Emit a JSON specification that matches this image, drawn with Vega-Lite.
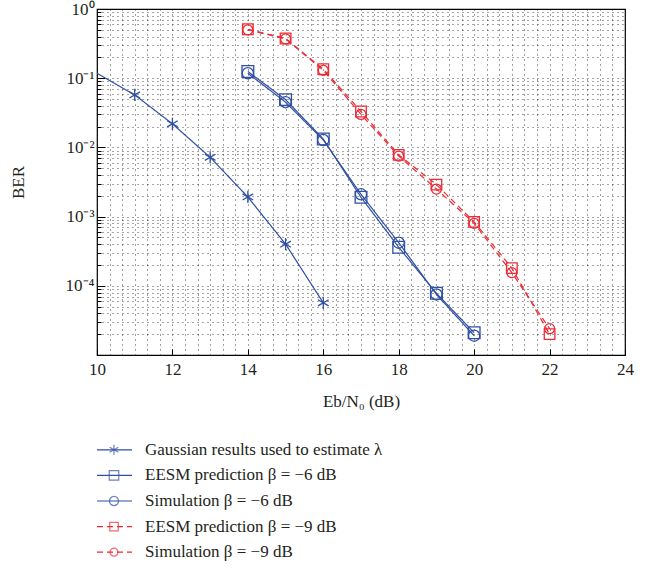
{
  "$schema": "https://vega.github.io/schema/vega-lite/v6.json",
  "background": "white",
  "padding": {"left": 8, "top": -1, "right": 5, "bottom": 5},
  "config": {
    "font": "Liberation Serif",
    "axis": {"labelFont": "Liberation Serif", "titleFont": "Liberation Serif", "labelFontSize": 17, "titleFontSize": 17, "titleFontWeight": "normal", "labelColor": "#231f20", "titleColor": "#231f20", "tickColor": "#000000"},
    "concat": {"spacing": 27}
  },
  "datasets": {
    "curves": [
      {"x": 10, "ber": 0.118, "series": "gauss"},
      {"x": 11, "ber": 0.0574, "series": "gauss"},
      {"x": 12, "ber": 0.0219, "series": "gauss"},
      {"x": 13, "ber": 0.0072, "series": "gauss"},
      {"x": 14, "ber": 0.00192, "series": "gauss"},
      {"x": 15, "ber": 0.0004, "series": "gauss"},
      {"x": 16, "ber": 0.0000567, "series": "gauss"},
      {"x": 14, "ber": 0.125, "series": "eesm6"},
      {"x": 15, "ber": 0.049, "series": "eesm6"},
      {"x": 16, "ber": 0.0132, "series": "eesm6"},
      {"x": 17, "ber": 0.0019, "series": "eesm6"},
      {"x": 18, "ber": 0.00036, "series": "eesm6"},
      {"x": 19, "ber": 0.000078, "series": "eesm6"},
      {"x": 20, "ber": 0.000021, "series": "eesm6"},
      {"x": 14, "ber": 0.118, "series": "sim6"},
      {"x": 15, "ber": 0.045, "series": "sim6"},
      {"x": 16, "ber": 0.0128, "series": "sim6"},
      {"x": 17, "ber": 0.0021, "series": "sim6"},
      {"x": 18, "ber": 0.00042, "series": "sim6"},
      {"x": 19, "ber": 0.000075, "series": "sim6"},
      {"x": 20, "ber": 0.000019, "series": "sim6"},
      {"x": 14, "ber": 0.51, "series": "eesm9"},
      {"x": 15, "ber": 0.375, "series": "eesm9"},
      {"x": 16, "ber": 0.135, "series": "eesm9"},
      {"x": 17, "ber": 0.033, "series": "eesm9"},
      {"x": 18, "ber": 0.0078, "series": "eesm9"},
      {"x": 19, "ber": 0.0029, "series": "eesm9"},
      {"x": 20, "ber": 0.00084, "series": "eesm9"},
      {"x": 21, "ber": 0.00018, "series": "eesm9"},
      {"x": 22, "ber": 0.00002, "series": "eesm9"},
      {"x": 14, "ber": 0.5, "series": "sim9"},
      {"x": 15, "ber": 0.37, "series": "sim9"},
      {"x": 16, "ber": 0.13, "series": "sim9"},
      {"x": 17, "ber": 0.03, "series": "sim9"},
      {"x": 18, "ber": 0.0075, "series": "sim9"},
      {"x": 19, "ber": 0.0025, "series": "sim9"},
      {"x": 20, "ber": 0.0008, "series": "sim9"},
      {"x": 21, "ber": 0.000155, "series": "sim9"},
      {"x": 22, "ber": 0.000024, "series": "sim9"}
    ],
    "legendRows": [
      {"series": "gauss", "label": "Gaussian results used to estimate λ"},
      {"series": "eesm6", "label": "EESM prediction β = −6 dB"},
      {"series": "sim6", "label": "Simulation β = −6 dB"},
      {"series": "eesm9", "label": "EESM prediction β = −9 dB"},
      {"series": "sim9", "label": "Simulation β = −9 dB"}
    ]
  },
  "resolve": {"scale": {"x": "independent", "y": "independent", "color": "independent", "shape": "independent", "size": "independent", "strokeDash": "independent"}},
  "vconcat": [
    {
      "width": 528,
      "height": 346,
      "data": {"name": "curves"},
      "view": {"stroke": "#000000", "strokeWidth": 1.2},
      "encoding": {
        "x": {
          "field": "x", "type": "quantitative",
          "scale": {"domain": [10, 24], "nice": false, "zero": false},
          "axis": {
            "title": "Eb/N₀ (dB)",
            "values": [10, 10.3333, 10.6667, 11, 11.3333, 11.6667, 12, 12.3333, 12.6667, 13, 13.3333, 13.6667, 14, 14.3333, 14.6667, 15, 15.3333, 15.6667, 16, 16.3333, 16.6667, 17, 17.3333, 17.6667, 18, 18.3333, 18.6667, 19, 19.3333, 19.6667, 20, 20.3333, 20.6667, 21, 21.3333, 21.6667, 22, 22.3333, 22.6667, 23, 23.3333, 23.6667, 24],
            "labelExpr": "abs(datum.value/2 - round(datum.value/2)) < 0.01 ? format(datum.value, 'd') : ''",
            "labelOverlap": false,
            "labelBound": false,
            "labelFlush": false,
            "tickSize": {"condition": {"test": "abs(datum.value/2 - round(datum.value/2)) < 0.01", "value": -6}, "value": 0},
            "labelPadding": 12,
            "titlePadding": 10,
            "domain": false,
            "grid": true,
            "gridColor": "#000000",
            "gridDash": [1, 4],
            "gridOpacity": 0.75,
            "gridWidth": 1
          }
        },
        "y": {
          "field": "ber", "type": "quantitative",
          "scale": {"type": "log", "domain": [0.00001, 1], "nice": false},
          "axis": {
            "title": "BER",
            "values": [1, 0.9, 0.8, 0.7, 0.6, 0.5, 0.4, 0.3, 0.2, 0.1, 0.09, 0.08, 0.07, 0.06, 0.05, 0.04, 0.03, 0.02, 0.01, 0.009, 0.008, 0.007, 0.006, 0.005, 0.004, 0.003, 0.002, 0.001, 0.0009, 0.0008, 0.0007, 0.0006, 0.0005, 0.0004, 0.0003, 0.0002, 0.0001, 0.00009, 0.00008, 0.00007, 0.00006, 0.00005, 0.00004, 0.00003, 0.00002],
            "labelExpr": "abs(log(datum.value)/LN10 - round(log(datum.value)/LN10)) < 0.001 ? '10' + ['⁰','⁻¹','⁻²','⁻³','⁻⁴','⁻⁵'][-round(log(datum.value)/LN10)] : ''",
            "labelOverlap": false,
            "labelBound": false,
            "labelFlush": false,
            "tickSize": {"condition": {"test": "abs(log(datum.value)/LN10 - round(log(datum.value)/LN10)) < 0.001", "value": -8}, "value": -4},
            "labelPadding": 11,
            "titlePadding": 38,
            "domain": false,
            "grid": true,
            "gridColor": "#000000",
            "gridDash": [1, 4],
            "gridOpacity": 0.7,
            "gridWidth": 1
          }
        },
        "color": {
          "field": "series", "type": "nominal", "legend": null,
          "scale": {"domain": ["gauss", "eesm6", "sim6", "eesm9", "sim9"], "range": ["#2f4fa3", "#2f4fa3", "#2f4fa3", "#ee2a35", "#ee2a35"]}
        }
      },
      "layer": [
        {
          "mark": {"type": "line", "strokeWidth": 1.2, "clip": true},
          "encoding": {
            "strokeDash": {
              "field": "series", "type": "nominal", "legend": null,
              "scale": {"domain": ["gauss", "eesm6", "sim6", "eesm9", "sim9"], "range": [[1, 0], [1, 0], [1, 0], [6, 4], [6, 4]]}
            }
          }
        },
        {
          "transform": [{"filter": "datum.x > 10"}],
          "mark": {"type": "point", "filled": false, "strokeWidth": 1.3, "clip": true, "opacity": 1},
          "encoding": {
            "shape": {
              "field": "series", "type": "nominal", "legend": null,
              "scale": {"domain": ["gauss", "eesm6", "sim6", "eesm9", "sim9"], "range": ["M0,-1L0,1M-0.87,-0.5L0.87,0.5M-0.87,0.5L0.87,-0.5", "square", "circle", "square", "circle"]}
            },
            "size": {
              "field": "series", "type": "nominal", "legend": null,
              "scale": {"domain": ["gauss", "eesm6", "sim6", "eesm9", "sim9"], "range": [150, 100, 80, 100, 80]}
            }
          }
        }
      ]
    },
    {
      "width": 400,
      "height": 128,
      "data": {"name": "legendRows"},
      "view": {"stroke": null},
      "encoding": {
        "y": {
          "field": "series", "type": "nominal", "axis": null,
          "scale": {"type": "point", "domain": ["gauss", "eesm6", "sim6", "eesm9", "sim9"], "padding": 0.5}
        },
        "color": {
          "field": "series", "type": "nominal", "legend": null,
          "scale": {"domain": ["gauss", "eesm6", "sim6", "eesm9", "sim9"], "range": ["#2f4fa3", "#2f4fa3", "#2f4fa3", "#ee2a35", "#ee2a35"]}
        }
      },
      "layer": [
        {
          "mark": {"type": "rule", "strokeWidth": 1.2},
          "encoding": {
            "x": {"datum": 0, "type": "quantitative", "scale": {"domain": [0, 400], "nice": false, "zero": false}, "axis": null},
            "x2": {"datum": 35},
            "strokeDash": {
              "field": "series", "type": "nominal", "legend": null,
              "scale": {"domain": ["gauss", "eesm6", "sim6", "eesm9", "sim9"], "range": [[1, 0], [1, 0], [1, 0], [6, 4], [6, 4]]}
            }
          }
        },
        {
          "mark": {"type": "point", "filled": false, "strokeWidth": 1.2},
          "encoding": {
            "x": {"datum": 17, "type": "quantitative", "axis": null},
            "shape": {
              "field": "series", "type": "nominal", "legend": null,
              "scale": {"domain": ["gauss", "eesm6", "sim6", "eesm9", "sim9"], "range": ["M0,-1L0,1M-0.87,-0.5L0.87,0.5M-0.87,0.5L0.87,-0.5", "square", "circle", "square", "circle"]}
            },
            "size": {
              "field": "series", "type": "nominal", "legend": null,
              "scale": {"domain": ["gauss", "eesm6", "sim6", "eesm9", "sim9"], "range": [100, 64, 50, 64, 50]}
            }
          }
        },
        {
          "mark": {"type": "text", "align": "left", "baseline": "middle", "fontSize": 17, "font": "Liberation Serif", "color": "#231f20"},
          "encoding": {
            "x": {"datum": 48, "type": "quantitative", "axis": null},
            "text": {"field": "label"},
            "color": {"value": "#231f20"}
          }
        }
      ]
    }
  ]
}
